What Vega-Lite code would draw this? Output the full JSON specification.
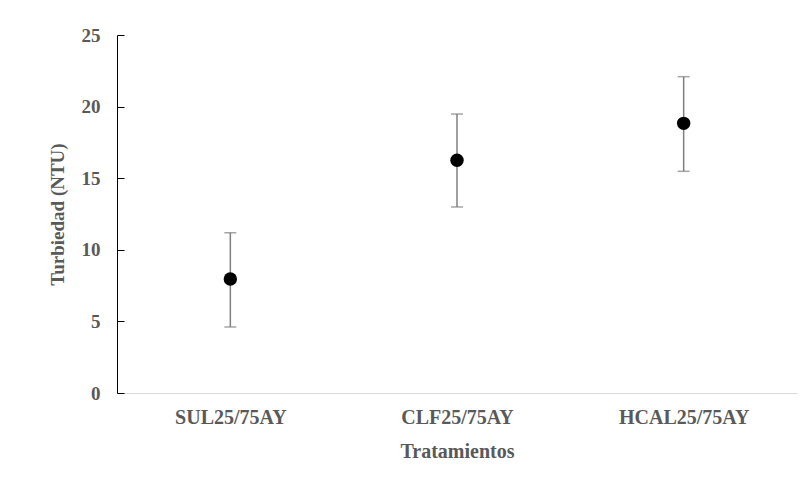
{
  "$schema": "https://vega.github.io/schema/vega-lite/v6.json",
  "autosize": {"type": "none"},
  "padding": {"left": 117, "top": 35, "right": 14, "bottom": 98},
  "width": 680,
  "height": 358,
  "background": "white",
  "config": {
    "view": {"stroke": null},
    "axis": {"grid": false, "labelFont": "Liberation Serif", "titleFont": "Liberation Serif", "labelFontWeight": "bold", "titleFontWeight": "bold", "labelColor": "#595959", "titleColor": "#595959"}
  },
  "data": {
    "values": [
      {"Tratamiento": "SUL25/75AY", "media": 7.96, "inferior": 4.61, "superior": 11.19},
      {"Tratamiento": "CLF25/75AY", "media": 16.25, "inferior": 12.99, "superior": 19.48},
      {"Tratamiento": "HCAL25/75AY", "media": 18.83, "inferior": 15.48, "superior": 22.09}
    ]
  },
  "encoding": {
    "x": {
      "field": "Tratamiento", "type": "nominal", "sort": null,
      "scale": {"type": "point", "padding": 0.5},
      "axis": {"title": "Tratamientos", "labelAngle": 0, "ticks": false, "domainColor": "#d9d9d9", "domainWidth": 1, "labelFontSize": 20, "titleFontSize": 20, "labelPadding": 14, "titlePadding": 14}
    }
  },
  "layer": [
    {
      "mark": {"type": "rule", "color": "#7f7f7f", "strokeWidth": 1.5},
      "encoding": {
        "y": {"field": "inferior", "type": "quantitative", "scale": {"domain": [0, 25], "nice": false},
          "axis": {"title": "Turbiedad (NTU)", "values": [0, 5, 10, 15, 20, 25], "domainColor": "black", "tickColor": "black", "tickSize": -7, "labelFontSize": 19, "titleFontSize": 19, "labelPadding": 24, "titlePadding": 14}},
        "y2": {"field": "superior"}
      }
    },
    {
      "mark": {"type": "tick", "color": "#7f7f7f", "size": 12, "thickness": 1.5, "orient": "horizontal"},
      "encoding": {"y": {"field": "inferior", "type": "quantitative"}}
    },
    {
      "mark": {"type": "tick", "color": "#7f7f7f", "size": 12, "thickness": 1.5, "orient": "horizontal"},
      "encoding": {"y": {"field": "superior", "type": "quantitative"}}
    },
    {
      "mark": {"type": "point", "filled": true, "color": "black", "opacity": 1, "size": 180},
      "encoding": {"y": {"field": "media", "type": "quantitative"}}
    }
  ]
}
